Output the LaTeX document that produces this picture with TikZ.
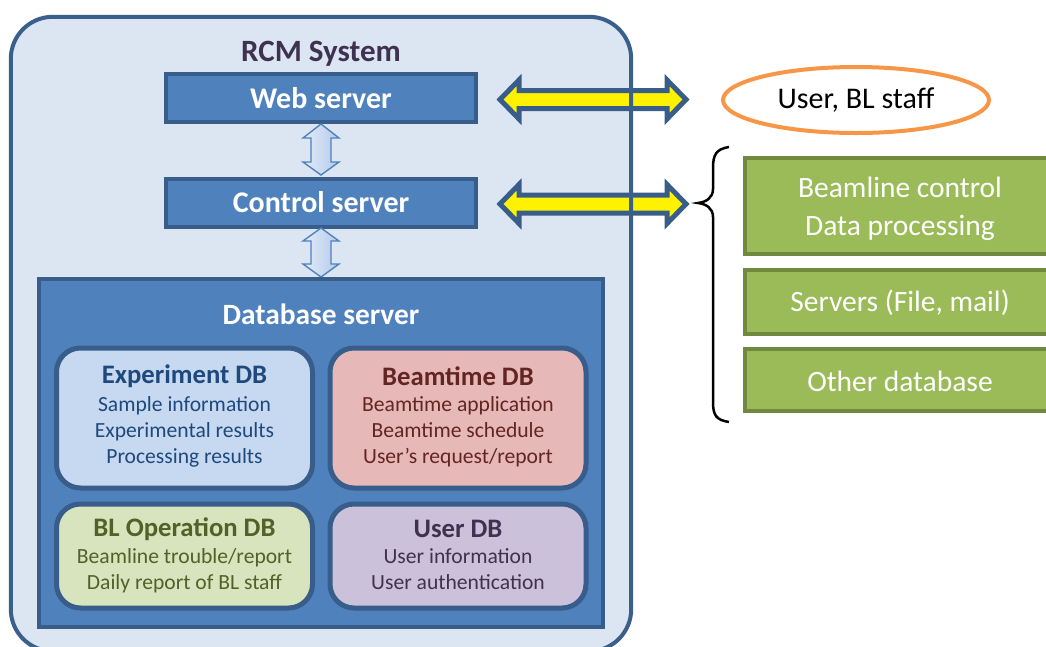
\documentclass[tikz,border=0pt]{standalone}
\usepackage{fontspec}
\setmainfont{Carlito}
\usetikzlibrary{calc,shapes.geometric}
\definecolor{outerfill}{HTML}{DCE6F2}
\definecolor{navy}{HTML}{3A5F8B}
\definecolor{blueA}{HTML}{4F81BD}
\definecolor{blueB}{HTML}{385D8A}
\definecolor{expfill}{HTML}{C6D9F1}
\definecolor{exptext}{HTML}{1F497D}
\definecolor{beamfill}{HTML}{E6B9B8}
\definecolor{beamtext}{HTML}{632523}
\definecolor{opfill}{HTML}{D7E4BD}
\definecolor{optext}{HTML}{4F6228}
\definecolor{userfill}{HTML}{CCC1DA}
\definecolor{usertext}{HTML}{3F3151}
\definecolor{greenfill}{HTML}{9BBB59}
\definecolor{greenline}{HTML}{71893F}
\definecolor{orangeline}{HTML}{F79646}
\definecolor{arrowlight}{HTML}{E3ECF8}
\definecolor{arrowdark}{HTML}{B3C9EA}
\begin{document}
\begin{tikzpicture}[x=1pt,y=-1pt,
  serverbox/.style={draw=blueB, fill=blueA, line width=4pt, minimum width=310pt, minimum height=48pt, inner sep=0pt, text=white, font=\bfseries\fontsize{30}{34}\selectfont},
  dbbox/.style={draw=blueB, line width=5pt, rounded corners=24pt, minimum width=256pt, inner sep=0pt},
  dbtitle/.style={inner sep=0pt, font=\bfseries\fontsize{26.7}{30}\selectfont},
  dbbody/.style={inner sep=0pt, align=center, font=\fontsize{21.6}{26}\selectfont},
  greenbox/.style={draw=greenline, fill=greenfill, line width=4pt, minimum width=310pt, inner sep=0pt},
  greentext/.style={inner sep=0pt, text=white, align=center, font=\fontsize{29.5}{38}\selectfont},
  yarrow/.style={draw=blueB, fill=yellow, line width=5pt, line join=miter},
  varrow/.style={draw=blueA, line width=1.4pt, left color=arrowlight, right color=arrowdark, line join=miter}
]
\useasboundingbox (0,0) rectangle (1046,646);
% outer system box (fill)
\node[fill=outerfill, rounded corners=42pt, minimum width=620pt, minimum height=634pt, inner sep=0pt] (sys) at (321,334) {};
\node[inner sep=0pt, text=usertext, font=\bfseries\fontsize{31}{34}\selectfont] (title) at (321,54) {RCM System};
\node[serverbox] (web) at (321,98) {Web server};
\node[serverbox] (control) at (321,202.5) {Control server};
% vertical double arrows
\path[varrow] (321,124) -- (339,138) -- (331,138) -- (331,162) -- (339,162) -- (321,175) -- (303,162) -- (311,162) -- (311,138) -- (303,138) -- cycle;
\path[varrow] (321,228) -- (339,241) -- (331,241) -- (331,264) -- (339,264) -- (321,277) -- (303,264) -- (311,264) -- (311,241) -- (303,241) -- cycle;
% database server
\node[draw=blueB, fill=blueA, line width=4pt, minimum width=564pt, minimum height=348pt, inner sep=0pt] (db) at (321,453) {};
\node[inner sep=0pt, text=white, font=\bfseries\fontsize{29.4}{32}\selectfont] (dbtitle) at (321,314) {Database server};
\node[dbbox, fill=expfill, minimum height=140pt] (exp) at (184.5,418) {};
\node[dbbox, fill=beamfill, minimum height=140pt] (beam) at (458,418) {};
\node[dbbox, fill=opfill, minimum height=104pt] (op) at (184.5,556) {};
\node[dbbox, fill=userfill, minimum height=104pt] (user) at (458,556) {};
\node[dbtitle, text=exptext] (expT) at (184.5,376) {Experiment DB};
\node[dbbody, text=exptext, anchor=north] (expB) at (184.5,396) {Sample information\\Experimental results\\Processing results};
\node[dbtitle, text=beamtext] (beamT) at (458,376) {Beamtime DB};
\node[dbbody, text=beamtext, anchor=north] (beamB) at (458,396) {Beamtime application\\Beamtime schedule\\User’s request/report};
\node[dbtitle, text=optext] (opT) at (184.5,529) {BL Operation DB};
\node[dbbody, text=optext, anchor=north] (opB) at (184.5,548) {Beamline trouble/report\\Daily report of BL staff};
\node[dbtitle, text=usertext] (userT) at (458,529) {User DB};
\node[dbbody, text=usertext, anchor=north] (userB) at (458,548) {User information\\User authentication};
% right side
\node[ellipse, draw=orangeline, fill=white, line width=4pt, minimum width=266pt, minimum height=66pt, inner sep=0pt, font=\fontsize{30}{34}\selectfont] (ext) at (856,100) {User, BL staff};
\node[greenbox, minimum height=96pt] (g1) at (900,205.5) {};
\node[greenbox, minimum height=64pt] (g2) at (900,301.5) {};
\node[greenbox, minimum height=62pt] (g3) at (900,379.5) {};
\node[greentext] (g1t) at (900,208.5) {Beamline control\\Data processing};
\node[greentext] (g2t) at (900,303) {Servers (File, mail)};
\node[greentext] (g3t) at (900,381) {Other database};
% brace
\coordinate (bracetip) at (698,203);
\draw[line width=2.5pt] (729,147) .. controls (716,149) and (713,155) .. (713,168) -- (713,189) .. controls (713,198) and (706,202) .. (bracetip) .. controls (706,204) and (713,208) .. (713,217) -- (713,402) .. controls (713,415) and (716,420) .. (729,422);
% yellow double arrows
\path[yarrow] (500,99.5) -- (519,80) -- (519,90.5) -- (667,90.5) -- (667,80) -- (686,99.5) -- (667,119) -- (667,108.5) -- (519,108.5) -- (519,119) -- cycle;
\path[yarrow] (500,204) -- (519,184.5) -- (519,195) -- (667,195) -- (667,184.5) -- (686,204) -- (667,223.5) -- (667,213) -- (519,213) -- (519,223.5) -- cycle;
% outer border on top
\draw[navy, line width=4pt, rounded corners=42pt] (sys.north west) rectangle (sys.south east);
\end{tikzpicture}
\end{document}
